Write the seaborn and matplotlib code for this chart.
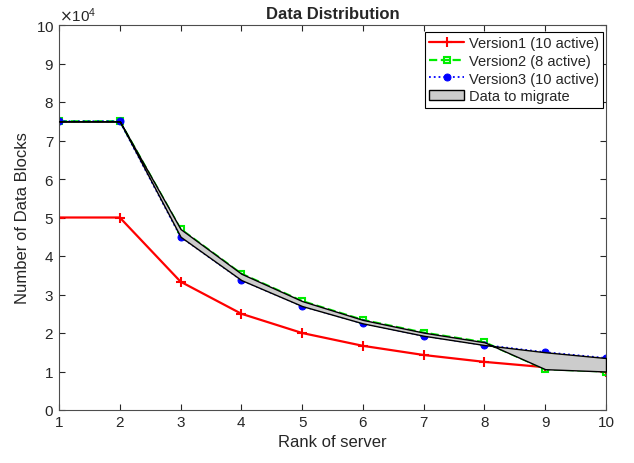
import numpy as np
import pandas as pd
import matplotlib
matplotlib.use("Agg")
import matplotlib.pyplot as plt
import seaborn as sns

ranks = [1, 2, 3, 4, 5, 6, 7, 8, 9, 10]
version1 = [50000, 50000, 33333, 25000, 20000, 16667, 14286, 12500, 11111, 10000]
version2 = [75000, 75000, 47000, 35400, 28300, 23400, 20100, 17600, 10600, 10000]
version3 = [75000, 75000, 45000, 33750, 27000, 22500, 19286, 16875, 15000, 13500]
labels = ["Version1 (10 active)", "Version2 (8 active)", "Version3 (10 active)", "Data to migrate"]

sns.set_style("ticks")
plt.rcParams['font.family'] = ['Liberation Sans', 'DejaVu Sans']

fig = plt.figure(figsize=(6.34, 4.64), dpi=100)
ax = fig.add_axes([59/634, 1 - 411/464, (606 - 59)/634, (411 - 26)/464])

df = pd.DataFrame({"rank": ranks, "v1": version1, "v2": version2, "v3": version3})

sns.lineplot(data=df, x="rank", y="v1", ax=ax, color="red", linestyle="-", lw=1.6,
             marker="+", markersize=7, markeredgewidth=1.5, markeredgecolor="red",
             label=labels[0], zorder=2)
sns.lineplot(data=df, x="rank", y="v2", ax=ax, color="#00ee00", linestyle="--", lw=1.6,
             marker="s", markersize=5, markerfacecolor="none", markeredgecolor="#00ee00",
             markeredgewidth=1.5, label=labels[1], zorder=2)
sns.lineplot(data=df, x="rank", y="v3", ax=ax, color="blue", linestyle=":", lw=1.3,
             marker="o", markersize=5, markeredgecolor="blue", markerfacecolor="blue",
             label=labels[2], zorder=2)
ax.fill_between(df["rank"], df["v2"], df["v3"], facecolor="0.8", edgecolor="black",
                lw=1.0, label=labels[3], zorder=3)

ax.set_xlim(1, 10)
ax.set_ylim(0, 100000)
ax.set_xticks(range(1, 11))
ax.set_yticks(np.arange(0, 100001, 10000))
ax.ticklabel_format(style='sci', axis='y', scilimits=(4, 4), useMathText=True)
ax.yaxis.get_offset_text().set_fontsize(11)

ax.tick_params(direction="in", top=True, right=True, length=4, width=0.8,
               labelsize=11, colors="0.15")
for s in ax.spines.values():
    s.set_visible(True)
    s.set_color("0.3")
    s.set_linewidth(0.8)

ax.set_title("Data Distribution", fontsize=12, fontweight="bold", pad=5)
ax.set_xlabel("Rank of server", fontsize=12, color="0.15")
ax.set_ylabel("Number of Data Blocks", fontsize=12, color="0.15")

leg = ax.legend(loc="upper right", bbox_to_anchor=(0.9945, 0.982), fontsize=10.5,
                frameon=True, fancybox=False, edgecolor="black", framealpha=1,
                borderaxespad=0, handlelength=2.4, labelspacing=0.25, borderpad=0.3,
                handletextpad=0.3)
leg.get_frame().set_linewidth(0.8)

fig.savefig("out.png", dpi=100)
